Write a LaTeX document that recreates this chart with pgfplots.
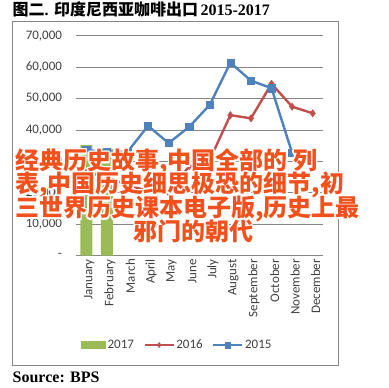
\documentclass[border=0pt]{standalone}
\usepackage{fontspec}
\usepackage{pgfplots}
\pgfplotsset{compat=1.18}
\setmainfont{Liberation Serif}
\newfontfamily\carlito{Carlito}
\newfontfamily\cjk{Noto Sans CJK SC}
\definecolor{xlblue}{RGB}{79,129,189}
\definecolor{xlred}{RGB}{192,80,77}
\definecolor{xlgreen}{RGB}{155,187,89}
\definecolor{wm}{RGB}{242,80,28}
\definecolor{gridc}{RGB}{134,134,134}
\definecolor{txt}{RGB}{64,64,64}
\newcommand{\wmline}[3]{%
  \foreach \dx/\dy in {1.6/0,-1.6/0,0/1.6,0/-1.6,1.1/1.1,-1.1/1.1,1.1/-1.1,-1.1/-1.1}{%
    \node[anchor=base west,inner sep=0pt,text=white] at (#1+\dx,#2+\dy) {\cjk\bfseries\fontsize{24}{24}\selectfont #3};}%
  \node[anchor=base west,inner sep=0pt,text=wm] at (#1,#2) {\cjk\bfseries\fontsize{24}{24}\selectfont #3};}
\begin{document}
\begin{tikzpicture}[x=1pt,y=1pt]
\path[use as bounding box] (0,0) rectangle (389,388);
\draw[gridc,line width=0.8pt] (12.7,366.3) rectangle (338,23);
\begin{axis}[
  at={(76pt,132.4pt)}, anchor=south west,
  scale only axis, width=247pt, height=219.9pt,
  xmin=0.5, xmax=12.5, ymin=0, ymax=70000,
  axis line style={draw=none},
  major tick length=0pt,
  scaled y ticks=false,
  ymajorgrids, grid style={gridc,line width=0.8pt},
  xtick={1,...,12},
  xticklabels={January,February,March,April,May,June,July,August,September,October,November,December},
  ytick={0,10000,20000,30000,40000,50000,60000,70000},
  yticklabels={{-},{10,000},{20,000},{30,000},{40,000},{50,000},{60,000},{70,000}},
  tick label style={font=\carlito\fontsize{13}{13}\selectfont, text=txt},
  xticklabel style={rotate=90, anchor=east, yshift=-3pt},
  yticklabel style={xshift=-10.5pt},
  legend columns=3,
  legend style={at={(0.409,-0.4066)}, anchor=center, draw=none, fill=none,
    font=\carlito\fontsize{13}{13}\selectfont, text=txt,
    /tikz/every even column/.append style={column sep=8pt},
    nodes={inner sep=1.5pt}},
  clip=false,
]
\addplot[ybar, bar width=12pt, fill=xlgreen, draw=none,
  legend image code/.code={\fill[xlgreen] (0pt,-4pt) rectangle (25pt,4pt);}]
  coordinates {(1,35200) (2,34000)};
\addlegendentry{2017}
\addplot[xlred, line width=2.4pt, mark=diamond*, mark size=3.6pt,
  mark options={line width=0.5pt,fill=xlred},
  legend image code/.code={\draw[line width=2.4pt] (0pt,0pt)--(29pt,0pt); \draw[line width=0.5pt,fill=xlred] plot[mark=diamond*,mark size=2.6pt] coordinates {(14.5pt,0pt)};}]
  coordinates {(1,26600) (2,25000) (3,22500) (4,20500) (5,20000) (6,28500) (7,30500) (8,44700) (9,43700) (10,54700) (11,47400) (12,45300)};
\addlegendentry{2016}
\addplot[xlblue, line width=2.4pt, mark=square*, mark size=3.6pt,
  mark options={line width=0.5pt,fill=xlblue},
  legend image code/.code={\draw[line width=2.4pt] (0pt,0pt)--(29pt,0pt); \draw[line width=0.5pt,fill=xlblue] plot[mark=square*,mark size=2.8pt] coordinates {(14.5pt,0pt)};}]
  coordinates {(1,33600) (2,33000) (3,33000) (4,41300) (5,35800) (6,41000) (7,48000) (8,61400) (9,55700) (10,53300) (11,32700) (12,30100)};
\addlegendentry{2015}
\end{axis}
\node[anchor=base west,inner sep=0pt] at (12.5,372) {{\cjk\bfseries\fontsize{16}{16}\selectfont 图二}{\bfseries\fontsize{16}{16}\selectfont. }{\cjk\bfseries\fontsize{16}{16}\selectfont 印度尼西亚咖啡出口} {\bfseries\fontsize{16}{16}\selectfont 2015-2017}};
\node[anchor=base west,inner sep=0pt] at (12.5,5) {\bfseries\fontsize{16}{16}\selectfont Source: BPS};
\wmline{15}{218}{经典历史故事,中国全部的 列}
\wmline{15}{195}{表,中国历史细思极恐的细节,初}
\wmline{15}{171}{三世界历史课本电子版,历史上最}
\wmline{133}{147}{邪门的朝代}
\end{tikzpicture}
\end{document}
